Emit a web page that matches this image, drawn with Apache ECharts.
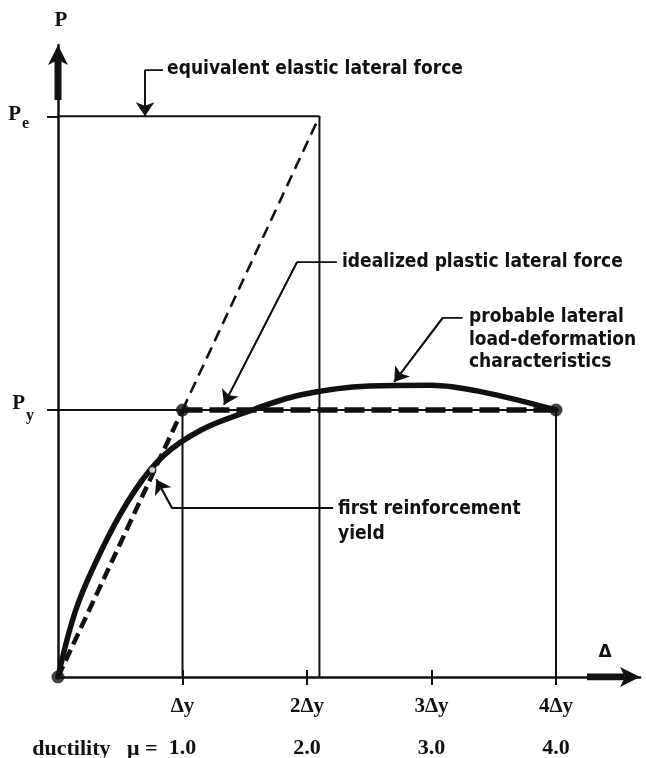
<!DOCTYPE html>
<html><head><meta charset="utf-8">
<script src="https://cdn.jsdelivr.net/npm/echarts@6/dist/echarts.min.js"></script>
<style>html,body{margin:0;padding:0;background:#fff}#c{width:646px;height:758px}</style>
</head><body><div id="c"></div><script>
// ---------- data ----------
const xTickValues = [1, 2, 3, 4];
const xTickLabels = ['Δy', '2Δy', '3Δy', '4Δy'];
const ductilityLabels = ['1.0', '2.0', '3.0', '4.0'];
const Py = 1.0;          // idealized plastic lateral force
const Pe = 2.1;          // equivalent elastic lateral force
const dYield = 1.0;      // Δy
const dElastic = 2.1;    // displacement at Pe
const dUlt = 4.0;        // 4Δy
const probableX = [0, 0.151, 0.39, 0.62, 0.85, 1.15, 1.5, 1.944, 2.5, 3.0, 3.414, 4.0];
const probableY = [0, 0.262, 0.513, 0.70, 0.83, 0.925, 0.99, 1.056, 1.09, 1.093, 1.067, 1.0];
const keyPointsX = [0, dYield, dUlt];
const keyPointsY = [0, Py, Py];
const firstYield = [0.757, 0.775];
const xMax = 4.675, yMax = 2.367;

// annotation leaders (data coords) and texts
const leaders = [
  [[0.843, 2.273], [0.699, 2.273], [0.699, 2.1]],
  [[2.24, 1.554], [1.92, 1.554], [1.333, 1.02]],
  [[3.25, 1.345], [3.09, 1.345], [2.70, 1.105]],
  [[2.21, 0.633], [0.916, 0.633], [0.79, 0.74]]
];
const notes = [
  {text: 'equivalent elastic lateral force', at: [0.876, 2.277]},
  {text: 'idealized plastic lateral force', at: [2.281, 1.554]},
  {text: 'probable lateral', at: [3.301, 1.348]},
  {text: 'load-deformation', at: [3.301, 1.262]},
  {text: 'characteristics', at: [3.301, 1.18]},
  {text: 'first reinforcement', at: [2.249, 0.629]},
  {text: 'yield', at: [2.249, 0.536]}
];

// ---------- chart ----------
const BLACK = '#111';
const sansB = "bold 19px 'Liberation Sans Narrow','DejaVu Sans Condensed','Arial Narrow',sans-serif";
const serifFam = "'Liberation Serif','DejaVu Serif',serif";
const chart = echarts.init(document.getElementById('c'), null, {renderer: 'canvas'});

function seg(pts, width, dash, z) {
  return {type: 'line', data: pts, symbol: 'none', silent: true, z: z || 2,
    lineStyle: {color: BLACK, width: width, type: dash || 'solid', cap: 'butt'}};
}
const zip = (a, b) => a.map((v, i) => [v, b[i]]);

const series = [
  seg([[0, Pe], [dElastic, Pe]], 2),
  seg([[dElastic, 0], [dElastic, Pe]], 2),
  seg([[dYield, 0], [dYield, Py]], 2),
  seg([[dUlt, 0], [dUlt, Py]], 2),
  seg([[0, Py], [dUlt, Py]], 1.8),
  seg([[dYield, Py], [dElastic, Pe]], 2.6, [12, 7]),
  seg([[0, 0], [dYield, Py]], 4.5, [12, 6], 3),
  seg([[dYield, Py], [dUlt, Py]], 5.5, [20, 7], 3),
  {type: 'line', data: zip(probableX, probableY), symbol: 'none', smooth: 0.35, z: 4,
    lineStyle: {color: BLACK, width: 5.5, cap: 'round', join: 'round'}},
  // thick arrow shafts
  seg([[0, 2.161], [0, 2.31]], 7, null, 5),
  seg([[4.249, 0], [4.55, 0]], 7, null, 5),
  {type: 'scatter', data: zip(keyPointsX, keyPointsY), symbolSize: 13, z: 6,
    itemStyle: {color: BLACK}},
  {type: 'scatter', data: [firstYield], symbolSize: 7, z: 7,
    itemStyle: {color: '#fff', borderColor: BLACK, borderWidth: 1.5}}
];
leaders.forEach(p => {
  series.push(seg(p, 1.8, null, 5));
  series.push({type: 'lines', coordinateSystem: 'cartesian2d', z: 5, silent: true,
    data: [{coords: [p[p.length - 2], p[p.length - 1]]}],
    symbol: ['none', 'arrow'], symbolSize: 14,
    lineStyle: {color: BLACK, width: 1.8, opacity: 1}});
});

const option = {
  backgroundColor: '#fff',
  animation: false,
  grid: {left: 58, right: 646 - (58 + xMax * 124.5), top: 677 - yMax * 267, bottom: 81, containLabel: false, outerBoundsMode: 'none'},
  xAxis: [
    {type: 'value', min: 0, max: xMax, position: 'bottom',
      axisLine: {show: true, onZero: false, symbol: ['none', 'arrow'], symbolSize: [15, 20], lineStyle: {color: BLACK, width: 2.5}},
      axisTick: {show: true, customValues: xTickValues, length: 8, lineStyle: {color: BLACK, width: 2}},
      axisLabel: {show: true, customValues: xTickValues, margin: 19,
        formatter: v => xTickLabels[xTickValues.indexOf(v)] || '',
        fontFamily: serifFam, fontWeight: 'bold', fontSize: 21, color: BLACK},
      splitLine: {show: false}},
    {type: 'value', min: 0, max: xMax, position: 'bottom',
      axisLine: {show: false},
      axisTick: {show: true, inside: true, customValues: xTickValues, length: 7, lineStyle: {color: BLACK, width: 2}},
      axisLabel: {show: true, customValues: xTickValues, margin: 60,
        formatter: v => ductilityLabels[xTickValues.indexOf(v)] || '',
        fontFamily: serifFam, fontWeight: 'bold', fontSize: 22, color: BLACK},
      splitLine: {show: false}}
  ],
  yAxis: {type: 'value', min: 0, max: yMax,
    axisLine: {show: true, onZero: false, symbol: ['none', 'arrow'], symbolSize: [15, 20], lineStyle: {color: BLACK, width: 2.5}},
    axisTick: {show: true, customValues: [Py, Pe], length: 11, lineStyle: {color: BLACK, width: 2}},
    axisLabel: {show: false}, splitLine: {show: false}},
  series: series
};
chart.setOption(option);

const toPx = p => chart.convertToPixel({xAxisIndex: 0, yAxisIndex: 0}, p);
const g = [];
notes.forEach(n => {
  const q = toPx(n.at);
  g.push({type: 'text', x: q[0], y: q[1], z: 10,
    style: {text: n.text, font: sansB, fill: BLACK, align: 'left', verticalAlign: 'middle', textAlign: 'left', textVerticalAlign: 'middle'}});
});
function pLabel(val, sub, rightX, dy, subDy) {
  const q = toPx([0, val]);
  g.push({type: 'text', x: q[0] + rightX, y: q[1] + dy, z: 10,
    style: {text: 'P', font: 'bold 21px ' + serifFam, fill: BLACK, align: 'right', verticalAlign: 'middle', textAlign: 'right', textVerticalAlign: 'middle'}});
  g.push({type: 'text', x: q[0] + rightX + 1, y: q[1] + subDy, z: 10,
    style: {text: sub, font: 'bold 16px ' + serifFam, fill: BLACK, align: 'left', verticalAlign: 'middle', textAlign: 'left', textVerticalAlign: 'middle'}});
}
pLabel(Pe, 'e', -37, -2, 8);
pLabel(Py, 'y', -33, -6, 6);
// axis titles
const yTopPx = toPx([0, yMax]);
g.push({type: 'text', x: yTopPx[0] + 3, y: yTopPx[1] - 24, z: 10,
  style: {text: 'P', font: 'bold 21px ' + serifFam, fill: BLACK, align: 'center', verticalAlign: 'middle', textAlign: 'center', textVerticalAlign: 'middle'}});
const dlPx = toPx([4.394, 0.09]);
g.push({type: 'text', x: dlPx[0], y: dlPx[1], z: 10,
  style: {text: 'Δ', font: 'bold 17px ' + "'DejaVu Sans',sans-serif", fill: BLACK, align: 'center', verticalAlign: 'middle', textAlign: 'center', textVerticalAlign: 'middle'}});
const d1Px = toPx([dYield, 0]);
g.push({type: 'text', x: d1Px[0] - 25, y: d1Px[1] + 72, z: 10,
  style: {text: 'ductility   μ =', font: 'bold 22px ' + serifFam, fill: BLACK, align: 'right', verticalAlign: 'middle', textAlign: 'right', textVerticalAlign: 'middle'}});
chart.setOption({graphic: g});
</script></body></html>
